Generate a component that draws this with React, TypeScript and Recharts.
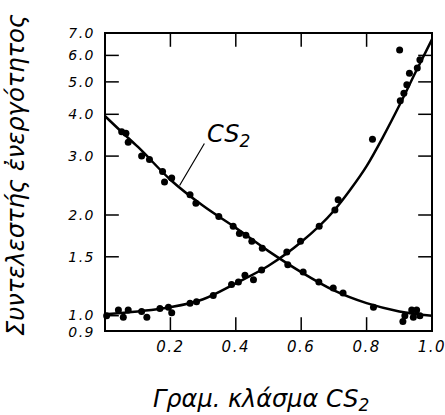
import React from "react";
import {
  ComposedChart,
  Line,
  Scatter,
  XAxis,
  YAxis,
  ReferenceLine,
} from "recharts";

// smooth curves
const curveCs2X = [0, 0.05, 0.1, 0.2, 0.3, 0.4, 0.5, 0.6, 0.7, 0.8, 0.9, 1.0];
const curveCs2Y = [3.95, 3.55, 3.2, 2.55, 2.13, 1.83, 1.56, 1.35, 1.19, 1.09, 1.03, 1.0];

const curveOtherX = [0, 0.1, 0.2, 0.3, 0.4, 0.5, 0.6, 0.7, 0.75, 0.8, 0.85, 0.9, 0.95, 1.0];
const curveOtherY = [1.01, 1.03, 1.06, 1.12, 1.25, 1.41, 1.66, 2.06, 2.38, 2.8, 3.42, 4.25, 5.35, 6.7];

// measured points
const dotsCs2X = [
  0.051, 0.064, 0.071, 0.112, 0.136, 0.176, 0.182, 0.204, 0.26, 0.278, 0.348,
  0.392, 0.411, 0.431, 0.449, 0.481, 0.559, 0.606, 0.654, 0.698, 0.728, 0.821,
  0.911, 0.917, 0.938, 0.953, 0.943, 0.963,
];
const dotsCs2Y = [
  3.55, 3.51, 3.3, 3.0, 2.93, 2.7, 2.51, 2.58, 2.3, 2.17, 1.98, 1.85, 1.76, 1.74,
  1.67, 1.59, 1.42, 1.35, 1.26, 1.21, 1.17, 1.06, 0.96, 1.0, 1.04, 1.04, 0.99,
  1.0,
];

const dotsOtherX = [
  0.005, 0.041, 0.056, 0.071, 0.112, 0.128, 0.168, 0.194, 0.204, 0.26, 0.28,
  0.331, 0.387, 0.408, 0.428, 0.454, 0.479, 0.556, 0.598, 0.655, 0.703, 0.713,
  0.818, 0.901, 0.903, 0.914, 0.923, 0.931, 0.955, 0.963,
];
const dotsOtherY = [
  1.0, 1.04, 0.99, 1.04, 1.03, 0.99, 1.05, 1.06, 1.02, 1.09, 1.1, 1.15, 1.24,
  1.26, 1.32, 1.28, 1.37, 1.55, 1.67, 1.85, 2.07, 2.22, 3.37, 6.23, 4.39, 4.62,
  4.9, 5.31, 5.5, 5.82,
];

const xTicks = [0.2, 0.4, 0.6, 0.8, 1.0];
const xTickMarks = [0.2, 0.4, 0.6, 0.8];
const yTicks = [0.9, 1.0, 1.5, 2.0, 3.0, 4.0, 5.0, 6.0, 7.0];
const yTickMarksLeft = [1.0, 1.5, 2.0, 3.0, 4.0, 5.0, 6.0];
const yTickMarksRight = [1.5, 2.0, 3.0, 4.0, 5.0, 6.0];

const X_MIN = 0;
const X_MAX = 1;
const Y_MIN = 0.9;
const Y_MAX = 7;
// inward tick length (~13px) in data units
const TICK_X = 0.04;
const TICK_Y = 1.094;

const zip = (xs: number[], ys: number[]) => xs.map((x, i) => ({ x, y: ys[i] }));

const font = "DejaVu Sans";

const Dot = (props: any) => <circle cx={props.cx} cy={props.cy} r={3.5} fill="#000" />;

const LeftLabel = (props: any) => {
  const { x, y, payload } = props;
  const v = payload.value;
  const nudge = v === 1 ? -1 : v === 0.9 ? 1 : 0;
  return (
    <text
      x={x}
      y={y + nudge}
      textAnchor="end"
      dominantBaseline="central"
      fontSize={14}
      fontStyle="italic"
      fontFamily={font}
      letterSpacing={1.5}
      fill="#000"
    >
      {v.toFixed(1)}
    </text>
  );
};

const BottomLabel = (props: any) => (
  <text
    x={props.x}
    y={props.y}
    textAnchor="middle"
    dominantBaseline="central"
    fontSize={15}
    fontStyle="italic"
    fontFamily={font}
    letterSpacing={1.5}
    fill="#000"
  >
    {props.payload.value.toFixed(1)}
  </text>
);

const seg = (key: string, a: { x: number; y: number }, b: { x: number; y: number }, w: number) => (
  <ReferenceLine
    key={key}
    xAxisId="bottom"
    yAxisId="left"
    segment={[a, b]}
    stroke="#000"
    strokeWidth={w}
    strokeLinecap="square"
    ifOverflow="visible"
  />
);

export default function App() {
  return (
    <div style={{ position: "absolute", left: 0, top: 0, background: "#fff" }}>
      <ComposedChart
        width={445}
        height={415}
        margin={{ top: 33, right: 13, bottom: 54, left: 0 }}
      >
        <XAxis
          xAxisId="bottom"
          dataKey="x"
          type="number"
          domain={[X_MIN, X_MAX]}
          ticks={xTicks}
          interval={0}
          tickSize={0}
          tickMargin={16}
          height={30}
          axisLine={false}
          tickLine={false}
          tick={BottomLabel}
        />
        <YAxis
          yAxisId="left"
          dataKey="y"
          type="number"
          scale="log"
          domain={[Y_MIN, Y_MAX]}
          allowDataOverflow
          ticks={yTicks}
          interval={0}
          tickSize={0}
          tickMargin={10}
          width={105}
          axisLine={false}
          tickLine={false}
          tick={LeftLabel}
        />

        <Line
          xAxisId="bottom"
          yAxisId="left"
          data={zip(curveCs2X, curveCs2Y)}
          dataKey="y"
          type="monotone"
          stroke="#000"
          strokeWidth={2.5}
          dot={false}
          isAnimationActive={false}
        />
        <Line
          xAxisId="bottom"
          yAxisId="left"
          data={zip(curveOtherX, curveOtherY)}
          dataKey="y"
          type="monotone"
          stroke="#000"
          strokeWidth={2.5}
          dot={false}
          isAnimationActive={false}
        />
        <Scatter
          xAxisId="bottom"
          yAxisId="left"
          data={zip(dotsCs2X, dotsCs2Y)}
          shape={Dot}
          isAnimationActive={false}
        />
        <Scatter
          xAxisId="bottom"
          yAxisId="left"
          data={zip(dotsOtherX, dotsOtherY)}
          shape={Dot}
          isAnimationActive={false}
        />

        {/* frame */}
        {seg("fl", { x: X_MIN, y: Y_MIN }, { x: X_MIN, y: Y_MAX }, 2)}
        {seg("fr", { x: X_MAX, y: Y_MIN }, { x: X_MAX, y: Y_MAX }, 2)}
        {seg("fb", { x: X_MIN, y: Y_MIN }, { x: X_MAX, y: Y_MIN }, 2)}
        {seg("ft", { x: X_MIN, y: Y_MAX }, { x: X_MAX, y: Y_MAX }, 2)}

        {/* inward ticks */}
        {xTickMarks.map((v) => seg(`tb${v}`, { x: v, y: Y_MIN }, { x: v, y: Y_MIN * TICK_Y }, 1.5))}
        {xTickMarks.map((v) => seg(`tt${v}`, { x: v, y: Y_MAX }, { x: v, y: Y_MAX / TICK_Y }, 1.5))}
        {yTickMarksLeft.map((v) => seg(`tl${v}`, { x: X_MIN, y: v }, { x: X_MIN + TICK_X, y: v }, 1.5))}
        {yTickMarksRight.map((v) => seg(`tr${v}`, { x: X_MAX, y: v }, { x: X_MAX - TICK_X, y: v }, 1.5))}

        {seg("leader", { x: 0.303, y: 3.26 }, { x: 0.229, y: 2.46 }, 1.2)}
        <text x={207} y={142} fontSize={24} fontStyle="italic" fontFamily={font} fill="#000">
          CS
          <tspan fontSize={17} dy={5}>2</tspan>
        </text>
        <text
          x={153}
          y={407}
          fontSize={24}
          fontStyle="italic"
          fontFamily={font}
          fill="#000"
        >
          Γραμ. κλάσμα CS
          <tspan fontSize={17} dy={4}>2</tspan>
        </text>
        <text
          transform="translate(24,175) rotate(-90)"
          textAnchor="middle"
          fontSize={24}
          fontStyle="italic"
          fontFamily={font}
          fill="#000"
          textLength={322}
          lengthAdjust="spacingAndGlyphs"
        >
          Συντελεστής ἐνεργότητος
        </text>
      </ComposedChart>
    </div>
  );
}
